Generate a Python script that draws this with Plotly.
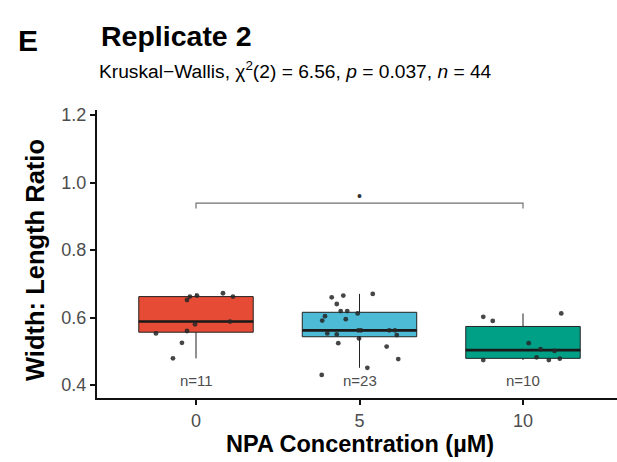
import numpy as np
import plotly.graph_objects as go

categories = ["0", "5", "10"]
colors = ["#E64B35", "#4DBBD5", "#00A087"]

vals_0 = [0.662, 0.652, 0.665, 0.672, 0.662, 0.580, 0.588, 0.553, 0.560, 0.525, 0.479]
jit_0 = [-0.037, -0.055, 0.006, 0.165, 0.226, -0.006, 0.208, -0.245, -0.055, -0.086, -0.141]

vals_5 = [0.660, 0.665, 0.670, 0.640, 0.619, 0.619, 0.612, 0.604, 0.591, 0.595, 0.562, 0.562,
          0.562, 0.562, 0.553, 0.550, 0.548, 0.538, 0.524, 0.514, 0.477, 0.451, 0.430]
jit_5 = [-0.170, -0.099, 0.081, -0.139, -0.115, -0.075, -0.011, -0.211, -0.228, -0.084, -0.007, 0.009,
         0.182, 0.217, -0.197, -0.139, 0.228, -0.003, -0.130, 0.166, 0.237, 0.048, -0.231]

vals_10 = [0.602, 0.590, 0.612, 0.524, 0.506, 0.501, 0.474, 0.482, 0.474, 0.478]
jit_10 = [-0.243, -0.185, 0.234, 0.035, 0.107, 0.193, -0.243, 0.083, 0.158, 0.225]

groups = [vals_0, vals_5, vals_10]
jitters = [jit_0, jit_5, jit_10]

bracket_y = 0.939
subtitle = "Kruskal−Wallis, χ<sup>2</sup>(2) = 6.56, <i>p</i> = 0.037, <i>n</i> = 44"

FONT = "Liberation Sans, Arial, sans-serif"
W, H = 617, 462
ML, MR, MT, MB = 97, 0, 110, 64
PW, PH = W - ML - MR, H - MT - MB


def px(x):
    return (x - ML) / PW


def py(y):
    return (H - MB - y) / PH


def box_stats(vals):
    a = np.asarray(vals, dtype=float)
    q1, med, q3 = np.percentile(a, [25, 50, 75])
    iqr = q3 - q1
    lo = a[a >= q1 - 1.5 * iqr].min()
    hi = a[a <= q3 + 1.5 * iqr].max()
    return float(q1), float(med), float(q3), float(lo), float(hi)


fig = go.Figure()

for i, (vals, col) in enumerate(zip(groups, colors)):
    pos = i + 1
    q1, med, q3, lo, hi = box_stats(vals)
    fig.add_trace(go.Box(
        x=[pos], q1=[q1], median=[med], q3=[q3], lowerfence=[lo], upperfence=[hi],
        width=0.7, fillcolor=col, line=dict(color="#222222", width=1),
        boxpoints=False, whiskerwidth=0, showlegend=False, hoverinfo="skip",
    ))
    fig.add_trace(go.Scatter(
        x=[pos - 0.35, pos + 0.35], y=[med, med], mode="lines",
        line=dict(color="#1a1a1a", width=2.6), showlegend=False, hoverinfo="skip",
    ))

for i, (vals, jit) in enumerate(zip(groups, jitters)):
    pos = i + 1
    fig.add_trace(go.Scatter(
        x=[pos + j for j in jit], y=vals, mode="markers",
        marker=dict(color="#262626", size=4.8, opacity=0.85),
        showlegend=False, hoverinfo="skip",
    ))

# significance bracket
fig.add_trace(go.Scatter(
    x=[1, 1, 3, 3], y=[bracket_y - 0.016, bracket_y, bracket_y, bracket_y - 0.016],
    mode="lines", line=dict(color="#707070", width=1.2), showlegend=False, hoverinfo="skip",
))

annotations = []
annotations.append(dict(x=2, y=bracket_y + 0.021, xref="x", yref="y", text="•", showarrow=False,
                        yanchor="middle", font=dict(size=14, color="#333333", family=FONT)))
for i, vals in enumerate(groups):
    annotations.append(dict(x=i + 1, y=0.413, xref="x", yref="y", text=f"n={len(vals)}",
                            showarrow=False, yanchor="middle",
                            font=dict(size=15, color="#4D4D4D", family=FONT)))

annotations += [
    dict(x=px(28), y=py(40), xref="paper", yref="paper", text="<b>E</b>", showarrow=False,
         xanchor="center", yanchor="middle", font=dict(size=30, color="#000000", family=FONT)),
    dict(x=px(99), y=py(36), xref="paper", yref="paper", text="<b>Replicate 2</b>", showarrow=False,
         xanchor="left", yanchor="middle", font=dict(size=28.5, color="#000000", family=FONT)),
    dict(x=px(97), y=py(70), xref="paper", yref="paper", text=subtitle, showarrow=False,
         xanchor="left", yanchor="middle", font=dict(size=19.2, color="#000000", family=FONT)),
    dict(x=px(35), y=py(260), xref="paper", yref="paper", text="<b>Width: Length Ratio</b>",
         showarrow=False, textangle=-90, xanchor="center", yanchor="middle",
         font=dict(size=25.5, color="#000000", family=FONT)),
    dict(x=px(360), y=py(444), xref="paper", yref="paper", text="<b>NPA Concentration (µM)</b>",
         showarrow=False, xanchor="center", yanchor="middle",
         font=dict(size=23.5, color="#000000", family=FONT)),
]

fig.update_layout(
    width=W, height=H,
    margin=dict(l=ML, r=MR, t=MT, b=MB),
    paper_bgcolor="white", plot_bgcolor="white",
    annotations=annotations,
    xaxis=dict(range=[1 - 99 / 163.5, 3 + 94 / 163.5], tickvals=[1, 2, 3], ticktext=categories,
               showgrid=False, zeroline=False, showline=True, linecolor="#111111", linewidth=2,
               ticks="outside", ticklen=5, tickwidth=2, tickcolor="#111111",
               tickfont=dict(size=18, color="#4D4D4D", family=FONT)),
    yaxis=dict(range=[0.3615, 1.215], tickvals=[0.4, 0.6, 0.8, 1.0, 1.2],
               ticktext=["0.4", "0.6", "0.8", "1.0", "1.2"],
               showgrid=False, zeroline=False, showline=True, linecolor="#111111", linewidth=2,
               ticks="outside", ticklen=5, tickwidth=2, tickcolor="#111111",
               tickfont=dict(size=18, color="#4D4D4D", family=FONT)),
    font=dict(family=FONT),
)

fig.write_html("out.html")
